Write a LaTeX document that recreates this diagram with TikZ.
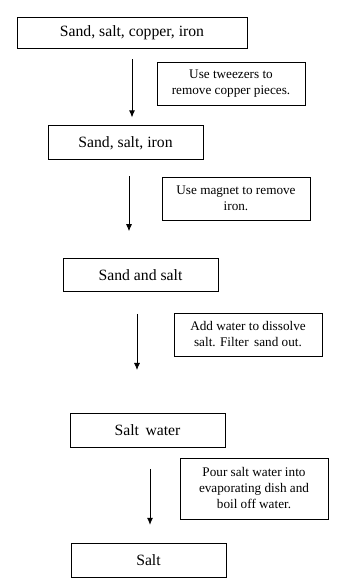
\documentclass[tikz,border=0pt]{standalone}
\usepackage{fontspec}
\setmainfont{Liberation Serif}
\usetikzlibrary{arrows.meta,positioning}

\begin{document}
\begin{tikzpicture}[
        x=1pt, y=1pt,
        box/.style={rectangle, draw=black, line width=0.8pt,
                    minimum width=155pt, minimum height=34pt, inner sep=2pt,
                    align=center, font=\fontsize{15.7}{18}\selectfont},
        note/.style={rectangle, draw=black, line width=0.8pt,
                     minimum width=148pt, minimum height=43pt, inner sep=2pt,
                     align=center, font=\fontsize{13.2}{16}\selectfont},
        arrow/.style={-{Latex[length=7pt,width=6pt]}, line width=0.8pt, black}
    ]
        \useasboundingbox (0,0) rectangle (343,583);

        \node[box, minimum width=230pt, minimum height=31pt] (b1) at (132,550.5) {Sand, salt, copper, iron};
        \node[box, below=77pt of b1, xshift=-6.5pt] (b2) {Sand, salt, iron};
        \node[box, below=98pt of b2, xshift=15pt, minimum height=33pt] (b3) {Sand and salt};
        \node[box, below=121pt of b3, xshift=7pt] (b4) {Salt\, water};
        \node[box, below=95pt of b4, xshift=1pt] (b5) {Salt};

        \node[note] (n1) at (231,499.5) {Use tweezers to\\remove copper pieces.};
        \node[note] (n2) at (236,384.5) {Use magnet to remove\\iron.};
        \node[note] (n3) at (248,248.5) {Add water to dissolve\\salt. Filter\, sand out.};
        \node[note, minimum height=61pt] (n4) at (254,94.5)
              {Pour salt water into\\evaporating dish and\\boil off water.};

        \foreach \a/\b/\dx/\gs/\ge in {b1/b2/0/11/8, b2/b3/3.5/16/27, b3/b4/-3.5/22/43, b4/b5/2.5/21/18}
            \draw[arrow, shorten <=\gs pt, shorten >=\ge pt]
                ([xshift=\dx pt]\a.south) -- ([xshift=\dx pt]\a.south |- \b.north);
    \end{tikzpicture}
\end{document}
